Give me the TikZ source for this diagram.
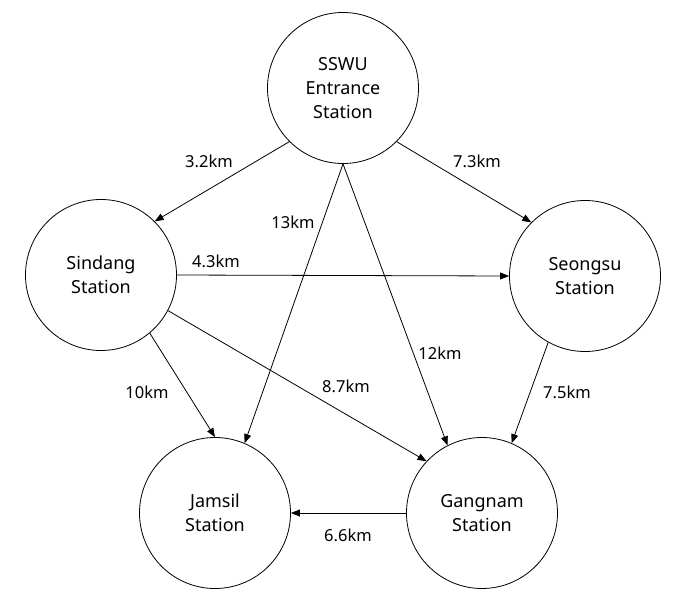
\documentclass[tikz,border=0pt]{standalone}
\usepackage{fontspec}
\setmainfont{Noto Sans}
\usetikzlibrary{arrows.meta}
\begin{document}
\begin{tikzpicture}[x=1pt,y=-1pt,
  station/.style={circle,draw,line width=0.8pt,minimum size=151pt,inner sep=0pt,align=center,font=\fontsize{18}{24}\selectfont},
  link/.style={line width=0.8pt,-{Triangle[length=9pt,width=7pt]}},
  dist/.style={font=\fontsize{16.5}{20}\selectfont,inner sep=0pt}]
\useasboundingbox (0,0) rectangle (688,597);
\node[station] (sswu) at (343,88) {SSWU\\Entrance\\Station};
\node[station] (sin) at (101,275) {Sindang\\Station};
\node[station] (seo) at (585,276) {Seongsu\\Station};
\node[station] (jam) at (215,513) {Jamsil\\Station};
\node[station] (gan) at (482,513) {Gangnam\\Station};
\draw[link] (sswu.225) -- (sin.45);
\draw[link] (sswu.315) -- (seo.135);
\draw[link] (sin.0) -- (seo.180);
\draw[link] (sswu.270) -- (jam.67.5);
\draw[link] (sswu.270) -- (gan.117);
\draw[link] (sin.310) -- (jam.90);
\draw[link] (sin.332) -- (gan.137);
\draw[link] (seo.241) -- (gan.67.5);
\draw[link] (gan.180) -- (jam.0);
\node[dist] (l1) at (209,161) {3.2km};
\node[dist] (l2) at (477,161) {7.3km};
\node[dist] (l3) at (293,222) {13km};
\node[dist] (l4) at (216,261) {4.3km};
\node[dist] (l5) at (440,353) {12km};
\node[dist] (l6) at (346,386) {8.7km};
\node[dist] (l7) at (147,392) {10km};
\node[dist] (l8) at (567,392) {7.5km};
\node[dist] (l9) at (348,535) {6.6km};
\end{tikzpicture}
\end{document}
